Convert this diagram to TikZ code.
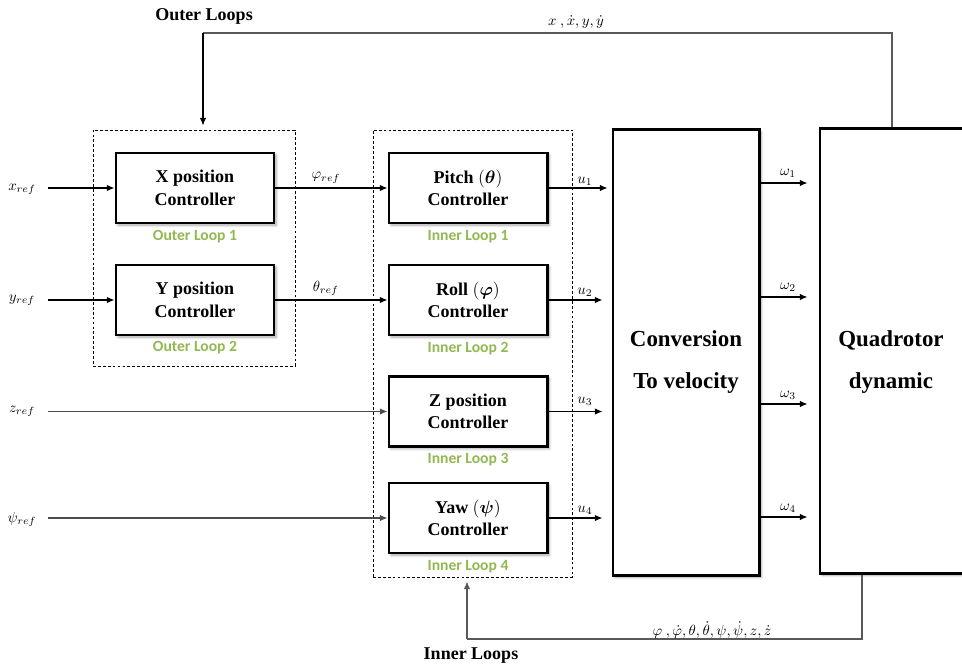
\RequirePackage{fix-cm}
\documentclass[tikz,border=0pt]{standalone}
\usepackage{bm}
\usepackage{fontspec}
\setmainfont{Liberation Serif}
\newfontfamily\loopfont{Carlito}
\usetikzlibrary{arrows.meta,shadows.blur}
\definecolor{loopgreen}{RGB}{146,184,82}
\begin{document}
\begin{tikzpicture}[x=0.025cm,y=-0.025cm,
  shadowed/.style={blur shadow={shadow xshift=1.5pt,shadow yshift=-1.5pt,shadow blur radius=2pt,shadow blur steps=6,shadow opacity=35}},
  ctrl/.style={draw,line width=2.1pt,fill=white,shadowed,minimum width=3.95cm,minimum height=1.75cm,
    align=center,inner sep=0pt,font=\bfseries\fontsize{12.8}{16}\selectfont},
  bigbox/.style={draw,line width=2.1pt,fill=white,shadowed,inner sep=0pt},
  bigtext/.style={align=center,font=\bfseries\fontsize{16.3}{30}\selectfont},
  groupbox/.style={draw,line width=0.6pt,dash pattern=on 2pt off 1.5pt,inner sep=0pt},
  looplabel/.style={text=loopgreen,font=\loopfont\bfseries\fontsize{11.1}{13}\selectfont},
  sig/.style={font=\fontsize{10.5}{12}\selectfont,inner sep=1pt},
  head/.style={font=\bfseries\fontsize{12.8}{15}\selectfont},
  conn/.style={line width=0.8pt,-{Latex[length=5.5pt,width=4.6pt]}},
  gconn/.style={conn,draw=black!70},
  fbline/.style={line width=0.8pt,draw=black!65}
]
\useasboundingbox (0,0) rectangle (962,666);

% group boxes
\node[groupbox,minimum width=5.05cm,minimum height=5.9cm] (outer) at (194,248) {};
\node[groupbox,minimum width=4.975cm,minimum height=11.175cm] (inner) at (472.5,353.5) {};

% controllers
\node[ctrl] (X) at (195,188) {X position\\Controller};
\node[ctrl] (Y) at (195,300) {Y position\\Controller};
\node[ctrl] (P) at (468,188) {Pitch $(\bm{\theta})$\\Controller};
\node[ctrl] (R) at (468,300) {Roll $(\bm{\varphi})$\\Controller};
\node[ctrl] (Z) at (468,411.5) {Z position\\Controller};
\node[ctrl] (W) at (468,518) {Yaw $(\bm{\psi})$\\Controller};

% loop labels
\node[looplabel] (ol1) at (195,237) {Outer Loop 1};
\node[looplabel] (ol2) at (195,348) {Outer Loop 2};
\node[looplabel] (il1) at (468,237) {Inner Loop 1};
\node[looplabel] (il2) at (468,349) {Inner Loop 2};
\node[looplabel] (il3) at (468,460) {Inner Loop 3};
\node[looplabel] (il4) at (468,567) {Inner Loop 4};

% big boxes
\node[bigbox,minimum width=3.65cm,minimum height=11.125cm] (C) at (686,352.5) {};
\node[bigtext] (Ctext) at (686,362) {Conversion\\To velocity};
\node[bigbox,minimum width=3.75cm,minimum height=11.1cm] (Q) at (895,351) {};
\node[bigtext] (Qtext) at (891,362) {Quadrotor\\dynamic};

% inputs
\node[sig] (xr) at (22,189) {$x_{ref}$};
\node[sig] (yr) at (22,300) {$y_{ref}$};
\node[sig] (zr) at (22,411) {$z_{ref}$};
\node[sig] (pr) at (22,519) {$\psi_{ref}$};
\coordinate (xs) at (48,188);
\coordinate (ys) at (48,300);
\coordinate (zs) at (48,411.5);
\coordinate (ps) at (48,518);
\draw[conn] (xs) -- (X.west);
\draw[conn] (ys) -- (Y.west);
\draw[gconn] (zs) -- (Z.west);
\draw[gconn] (ps) -- (W.west);

% references between stages
\draw[conn] (X.east) -- node[sig,above=2pt,pos=0.45] (phir) {$\varphi_{ref}$} (P.west);
\draw[conn] (Y.east) -- node[sig,above=2pt,pos=0.45] (thr) {$\theta_{ref}$} (R.west);

% u signals
\draw[conn,shorten >=2.8pt] (P.east) -- (P.east -| C.west);
\draw[conn,shorten >=6.4pt] (R.east) -- (R.east -| C.west);
\draw[conn,shorten >=6.4pt] (Z.east) -- (Z.east -| C.west);
\draw[conn,shorten >=6.4pt] (W.east) -- (W.east -| C.west);
\node[sig] (u1) at (585,181) {$u_1$};
\node[sig] (u2) at (585,292) {$u_2$};
\node[sig] (u3) at (585,401) {$u_3$};
\node[sig] (u4) at (585,510) {$u_4$};

% omega signals
\coordinate (w1) at (759,183);
\coordinate (w2) at (759,297);
\coordinate (w3) at (759,404);
\coordinate (w4) at (759,517);
\draw[conn,shorten >=7.8pt] (w1) -- (w1 -| Q.west);
\draw[conn,shorten >=7.8pt] (w2) -- (w2 -| Q.west);
\draw[conn,shorten >=7.8pt] (w3) -- (w3 -| Q.west);
\draw[conn,shorten >=7.8pt] (w4) -- (w4 -| Q.west);
\node[sig] (o1) at (788,173) {$\omega_1$};
\node[sig] (o2) at (788,287) {$\omega_2$};
\node[sig] (o3) at (788,395) {$\omega_3$};
\node[sig] (o4) at (788,508) {$\omega_4$};

% outer feedback
\coordinate (tr) at (892,33);
\coordinate (tl) at (203,33);
\draw[fbline] (Q.north -| tr) -- (tr) -- (tl);
\draw[conn,shorten >=2.8pt] (tl) -- (tl |- outer.north);
\node[sig] (tlab) at (576,22) {$x\ ,\dot{x},y,\dot{y}$};
\node[head] (outerlab) at (204,16) {Outer Loops};

% inner feedback
\coordinate (br) at (862,639);
\coordinate (bl) at (467,639);
\draw[fbline] (Q.south -| br) -- (br) -- (bl);
\draw[conn,draw=black!65,shorten >=2.8pt] (bl) -- (bl |- inner.south);
\node[sig] (blab) at (712,630) {$\varphi\ ,\dot{\varphi},\theta,\dot{\theta},\psi,\dot{\psi},z,\dot{z}$};
\node[head] (innerlab) at (471,656) {Inner Loops};
\end{tikzpicture}
\end{document}
